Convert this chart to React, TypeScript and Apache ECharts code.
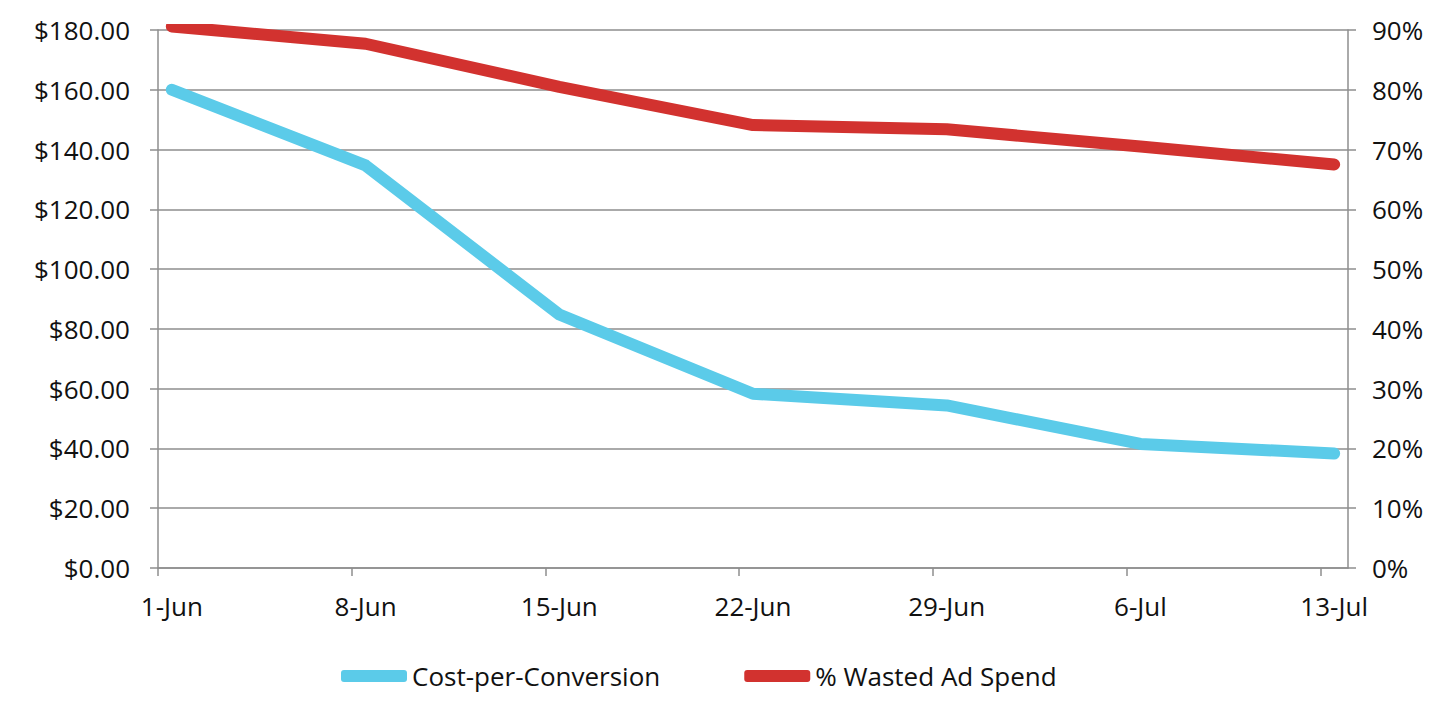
import React, { useEffect, useRef } from "react";
import * as echarts from "echarts";

const dates = ["1-Jun", "8-Jun", "15-Jun", "22-Jun", "29-Jun", "6-Jul", "13-Jul"];
const dayOffsets = [0, 7, 14, 21, 28, 35, 42];
const costPerConversion = [160, 134.7, 84.8, 58.3, 54.4, 41.5, 38.3];
const wastedAdSpend = [90.6, 87.7, 80.5, 74.1, 73.4, 70.5, 67.5];
const costTicks = [0, 180, 20];
const pctTicks = [0, 90, 10];

const FONT = "Open Sans";
const CYAN = "#5BCBE9";
const RED = "#D2322F";
const GRID = "#8E8E8E";

export default function App() {
  const ref = useRef<HTMLDivElement>(null);
  useEffect(() => {
    const chart = echarts.init(ref.current!, null, { renderer: "svg" });
    const labelStyle = { color: "#111", fontFamily: FONT, fontSize: 26 };
    const xPos = (i: number) => dayOffsets[i] + 0.5;
    chart.setOption({
      animation: false,
      backgroundColor: "#fff",
      textStyle: { fontFamily: FONT },
      grid: { left: 158, right: 100, top: 30, bottom: 144, containLabel: false },
      legend: {
        left: 336,
        top: 658,
        itemWidth: 66,
        itemHeight: 12,
        itemGap: 84,
        icon: "roundRect",
        textStyle: { ...labelStyle, padding: [0, 0, 0, 0] },
        data: ["Cost-per-Conversion", "% Wasted Ad Spend"],
      },
      xAxis: {
        type: "value",
        min: 0,
        max: 43,
        interval: 7,
        axisLine: { show: true, lineStyle: { color: GRID, width: 1.5 } },
        axisTick: {
          show: true,
          length: 8,
          lineStyle: { color: GRID, width: 1.5 },
          customValues: dayOffsets,
        },
        axisLabel: {
          ...labelStyle,
          margin: 25,
          customValues: dayOffsets.map((d) => d + 0.5),
          formatter: (v: number) => {
            const i = dayOffsets.indexOf(Math.round(v - 0.5));
            return i >= 0 ? dates[i] : "";
          },
        },
        splitLine: { show: false },
      },
      yAxis: [
        {
          type: "value",
          min: costTicks[0],
          max: costTicks[1],
          interval: costTicks[2],
          axisLine: { show: true, lineStyle: { color: GRID, width: 1.5 } },
          axisTick: { show: true, length: 8, lineStyle: { color: GRID, width: 1.5 } },
          axisLabel: { ...labelStyle, margin: 28, formatter: (v: number) => "$" + v.toFixed(2) },
          splitLine: { show: true, lineStyle: { color: GRID, width: 1.5 } },
        },
        {
          type: "value",
          position: "right",
          min: pctTicks[0],
          max: pctTicks[1],
          interval: pctTicks[2],
          axisLine: { show: true, lineStyle: { color: GRID, width: 1.5 } },
          axisTick: { show: true, length: 8, lineStyle: { color: GRID, width: 1.5 } },
          axisLabel: { ...labelStyle, margin: 24, formatter: "{value}%" },
          splitLine: { show: false },
        },
      ],
      series: [
        {
          name: "Cost-per-Conversion",
          type: "line",
          yAxisIndex: 0,
          data: costPerConversion.map((v, i) => [xPos(i), v]),
          symbol: "none",
          color: CYAN,
          lineStyle: { color: CYAN, width: 12, cap: "round", join: "round" },
          z: 3,
        },
        {
          name: "% Wasted Ad Spend",
          type: "line",
          yAxisIndex: 1,
          data: wastedAdSpend.map((v, i) => [xPos(i), v]),
          symbol: "none",
          color: RED,
          lineStyle: { color: RED, width: 12, cap: "round", join: "round" },
          z: 3,
        },
      ],
    });
    return () => chart.dispose();
  }, []);
  return (
    <div
      ref={ref}
      style={{ position: "fixed", left: 0, top: 0, width: 1448, height: 712, background: "#fff" }}
    />
  );
}
